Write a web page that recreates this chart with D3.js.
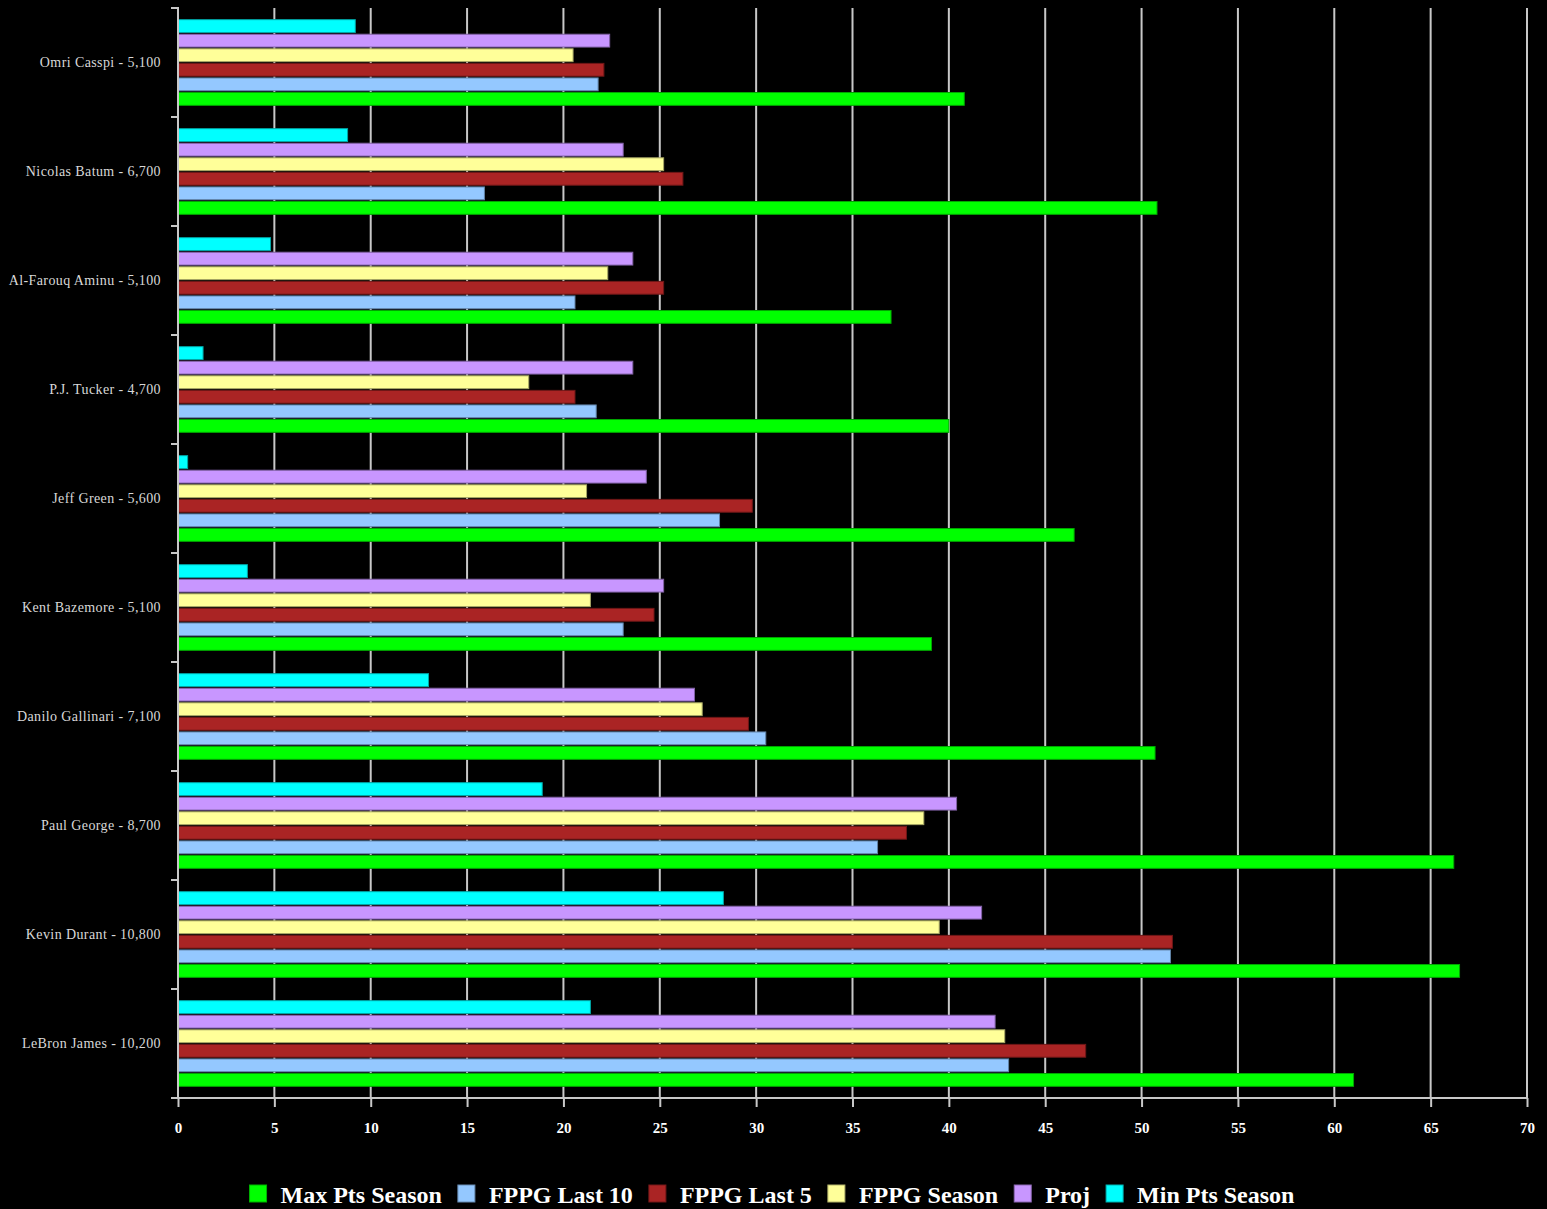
<!DOCTYPE html>
<html>
<head>
<meta charset="utf-8">
<script src="https://cdn.jsdelivr.net/npm/d3@7"></script>
<style>
  body { margin: 0; background: #000; }
  svg { display: block; }
</style>
</head>
<body>
<div id="chart"></div>
<script>
// players, top to bottom
const players = [
  "Omri Casspi - 5,100",
  "Nicolas Batum - 6,700",
  "Al-Farouq Aminu - 5,100",
  "P.J. Tucker - 4,700",
  "Jeff Green - 5,600",
  "Kent Bazemore - 5,100",
  "Danilo Gallinari - 7,100",
  "Paul George - 8,700",
  "Kevin Durant - 10,800",
  "LeBron James - 10,200"
];

// series in legend order
const seriesNames = ["Max Pts Season", "FPPG Last 10", "FPPG Last 5", "FPPG Season", "Proj", "Min Pts Season"];
const seriesColors = ["#00ff00", "#94c8ff", "#aa2424", "#ffff99", "#c896ff", "#00ffff"];

const maxPts   = [40.8, 50.8, 37.0, 40.0, 46.5, 39.1, 50.7, 66.2, 66.5, 61.0];
const fppgL10  = [21.8, 15.9, 20.6, 21.7, 28.1, 23.1, 30.5, 36.3, 51.5, 43.1];
const fppgL5   = [22.1, 26.2, 25.2, 20.6, 29.8, 24.7, 29.6, 37.8, 51.6, 47.1];
const fppgSeas = [20.5, 25.2, 22.3, 18.2, 21.2, 21.4, 27.2, 38.7, 39.5, 42.9];
const proj     = [22.4, 23.1, 23.6, 23.6, 24.3, 25.2, 26.8, 40.4, 41.7, 42.4];
const minPts   = [9.2, 8.8, 4.8, 1.3, 0.5, 3.6, 13.0, 18.9, 28.3, 21.4];

const seriesValues = [maxPts, fppgL10, fppgL5, fppgSeas, proj, minPts];

const xTicks = d3.range(0, 71, 5);

const margin = { top: 8, right: 20, bottom: 111, left: 178 };
const W = 1547, H = 1209;
const width = 1527 - margin.left;
const height = 1098 - margin.top;

const svg = d3.select("#chart").append("svg")
    .attr("width", W)
    .attr("height", H)
    .style("background", "#000");

const g = svg.append("g")
    .attr("transform", `translate(${margin.left},${margin.top})`);

const x = d3.scaleLinear().domain([0, 70]).range([0, width]);
const y = d3.scaleBand().domain(players).range([0, height]);
// Min Pts on top, Max Pts at the bottom of each group
const inner = d3.scaleBand()
    .domain(seriesNames.slice().reverse())
    .range([0, y.bandwidth()])
    .paddingInner(0.12)
    .paddingOuter(0.8);

// gridlines
g.append("g")
    .attr("class", "grid")
    .selectAll("line")
    .data(xTicks.slice(1))
    .join("line")
    .attr("x1", d => x(d)).attr("x2", d => x(d))
    .attr("y1", 0).attr("y2", height)
    .attr("stroke", "#c8c8c8")
    .attr("stroke-width", 2);

// bars
seriesNames.forEach((name, si) => {
  const col = seriesColors[si];
  g.append("g")
    .selectAll("rect")
    .data(seriesValues[si].map((v, i) => ({ p: players[i], v })))
    .join("rect")
    .attr("x", x(0))
    .attr("y", d => y(d.p) + inner(name))
    .attr("width", d => x(d.v) - x(0))
    .attr("height", inner.bandwidth())
    .attr("fill", col)
    .attr("stroke", d3.color(col).darker(1.2))
    .attr("stroke-width", 1);
});

// x axis
const xAxis = g.append("g")
    .attr("transform", `translate(0,${height})`)
    .call(d3.axisBottom(x).tickValues(xTicks).tickSize(9).tickPadding(15));
xAxis.select(".domain").attr("stroke", "#c8c8c8").attr("stroke-width", 2)
    .attr("d", `M-7,0H${width}`);
xAxis.selectAll(".tick line").attr("stroke", "#c8c8c8").attr("stroke-width", 2);
xAxis.selectAll("text")
    .attr("fill", "#fff")
    .style("font-family", "'Liberation Serif', serif")
    .style("font-weight", "bold")
    .style("font-size", "15px");

// y axis
const yAxis = g.append("g")
    .call(d3.axisLeft(y).tickSize(0).tickPadding(17));
yAxis.select(".domain").attr("stroke", "#c8c8c8").attr("stroke-width", 2)
    .attr("d", `M0,-1V${height}`);
yAxis.selectAll("text")
    .attr("fill", "#d8d8d8")
    .style("font-family", "'Liberation Serif', serif")
    .style("font-size", "14px")
    .style("letter-spacing", "0.4px");
// ticks at group boundaries
g.append("g")
    .selectAll("line")
    .data(players)
    .join("line")
    .attr("x1", -7).attr("x2", 0)
    .attr("y1", d => y(d)).attr("y2", d => y(d))
    .attr("stroke", "#c8c8c8")
    .attr("stroke-width", 2);

// legend
const legend = svg.append("g").attr("transform", "translate(0,1194)");
let cx = 0;
seriesNames.forEach((name, i) => {
  const it = legend.append("g");
  it.append("rect")
    .attr("x", 0).attr("y", -9)
    .attr("width", 17).attr("height", 17)
    .attr("fill", seriesColors[i])
    .attr("stroke", d3.color(seriesColors[i]).darker(1))
    .attr("stroke-width", 1);
  const t = it.append("text")
    .attr("x", 31).attr("y", 1)
    .attr("dy", "0.35em")
    .attr("fill", "#fff")
    .style("font-family", "'Liberation Serif', serif")
    .style("font-weight", "bold")
    .style("font-size", "24px")
    .text(name);
  const w = 31 + t.node().getComputedTextLength();
  it.attr("transform", `translate(${cx},0)`);
  cx += w + 16;
});
const totalW = cx - 16;
legend.attr("transform", `translate(${772 - totalW / 2},1194)`);
</script>
</body>
</html>
